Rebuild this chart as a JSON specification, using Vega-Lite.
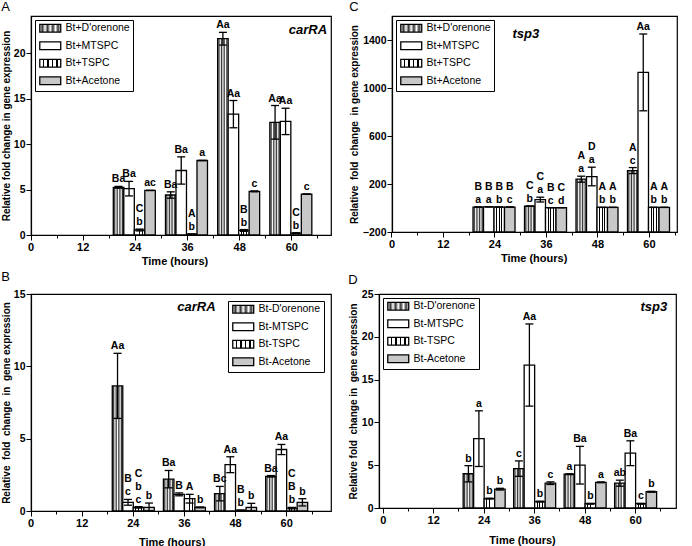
{
"$schema":"https://vega.github.io/schema/vega-lite/v6.json",
"background":"white",
"padding":{"left":0,"top":0,"right":0,"bottom":0},
"config":{
 "view":{"stroke":"black","strokeWidth":1.2},
 "font":"Liberation Sans",
 "axis":{"grid":false,"domainColor":"black","domainWidth":1.2,"tickColor":"black","tickWidth":1,"labelColor":"black","titleColor":"black","labelFont":"Liberation Sans","titleFont":"Liberation Sans","labelFontWeight":"bold","titleFontWeight":"bold","labelFontSize":11,"titleFontSize":11,"labelFlush":false,"labelOverlap":false,"labelBound":false,"labelPadding":1,"labelAngle":0},
 "axisY":{"titleFontSize":10,"labelFontSize":10.5},
 "axisX":{"domain":false,"bandPosition":0.5},
 "title":{"anchor":"start","frame":"bounds","fontSize":13,"fontWeight":"normal","font":"Liberation Sans","offset":2,"color":"black"},
 "legend":{"strokeColor":"black","fillColor":"white","padding":3,"labelFont":"Liberation Sans","labelFontSize":10.5,"labelColor":"black","symbolSize":58,"symbolStrokeColor":"black","symbolStrokeWidth":1.3,"symbolOffset":7,"labelOffset":10,"rowPadding":3.5,"offset":4,"symbolOpacity":1}
},
"datasets":{
 "A":[
  {"t":24,"trt":"D'orenone","v":5.25,"lo":5.15,"hi":5.35,"l1":"Ba"},
  {"t":24,"trt":"MTSPC","v":5.1,"lo":4.3,"hi":5.9,"l1":"Ba"},
  {"t":24,"trt":"TSPC","v":0.55,"lo":0.45,"hi":0.65,"l1":"b","l2":"C"},
  {"t":24,"trt":"Acetone","v":4.9,"lo":4.9,"hi":4.9,"l1":"ac"},
  {"t":36,"trt":"D'orenone","v":4.4,"lo":4.05,"hi":4.75,"l1":"Ba"},
  {"t":36,"trt":"MTSPC","v":7.1,"lo":5.6,"hi":8.6,"l1":"Ba"},
  {"t":36,"trt":"TSPC","v":0.1,"lo":0.1,"hi":0.1,"l1":"b","l2":"A"},
  {"t":36,"trt":"Acetone","v":8.2,"lo":8.2,"hi":8.2,"l1":"a"},
  {"t":48,"trt":"D'orenone","v":21.6,"lo":20.9,"hi":22.3,"l1":"Aa"},
  {"t":48,"trt":"MTSPC","v":13.3,"lo":11.8,"hi":14.8,"l1":"Aa"},
  {"t":48,"trt":"TSPC","v":0.5,"lo":0.4,"hi":0.6,"l1":"b","l2":"B"},
  {"t":48,"trt":"Acetone","v":4.8,"lo":4.75,"hi":4.85,"l1":"c"},
  {"t":60,"trt":"D'orenone","v":12.4,"lo":10.55,"hi":14.25,"l1":"Aa"},
  {"t":60,"trt":"MTSPC","v":12.5,"lo":11.05,"hi":13.95,"l1":"Aa"},
  {"t":60,"trt":"TSPC","v":0.2,"lo":0.15,"hi":0.25,"l1":"b","l2":"C"},
  {"t":60,"trt":"Acetone","v":4.5,"lo":4.5,"hi":4.5,"l1":"c"}
 ],
 "C":[
  {"t":24,"trt":"D'orenone","v":8,"lo":8,"hi":8,"l1":"a","l2":"B"},
  {"t":24,"trt":"MTSPC","v":10,"lo":10,"hi":10,"l1":"a","l2":"B"},
  {"t":24,"trt":"TSPC","v":8,"lo":8,"hi":8,"l1":"b","l2":"B"},
  {"t":24,"trt":"Acetone","v":8,"lo":8,"hi":8,"l1":"c","l2":"B"},
  {"t":36,"trt":"D'orenone","v":15,"lo":15,"hi":15,"l1":"b","l2":"C"},
  {"t":36,"trt":"MTSPC","v":70,"lo":50,"hi":90,"l1":"a","l2":"C"},
  {"t":36,"trt":"TSPC","v":3,"lo":3,"hi":3,"l1":"c","l2":"B"},
  {"t":36,"trt":"Acetone","v":3,"lo":3,"hi":3,"l1":"d","l2":"C"},
  {"t":48,"trt":"D'orenone","v":240,"lo":215,"hi":265,"l1":"a","l2":"A"},
  {"t":48,"trt":"MTSPC","v":262,"lo":185,"hi":340,"l1":"a","l2":"D"},
  {"t":48,"trt":"TSPC","v":5,"lo":5,"hi":5,"l1":"b","l2":"A"},
  {"t":48,"trt":"Acetone","v":5,"lo":5,"hi":5,"l1":"b","l2":"A"},
  {"t":60,"trt":"D'orenone","v":312,"lo":287,"hi":337,"l1":"c","l2":"A"},
  {"t":60,"trt":"MTSPC","v":1130,"lo":810,"hi":1450,"l1":"Aa"},
  {"t":60,"trt":"TSPC","v":5,"lo":5,"hi":5,"l1":"b","l2":"A"},
  {"t":60,"trt":"Acetone","v":5,"lo":5,"hi":5,"l1":"b","l2":"A"}
 ],
 "B":[
  {"t":24,"trt":"D'orenone","v":8.65,"lo":6.4,"hi":10.9,"l1":"Aa"},
  {"t":24,"trt":"MTSPC","v":0.6,"lo":0.4,"hi":0.8,"l1":"c","l2":"B"},
  {"t":24,"trt":"TSPC","v":0.25,"lo":0.2,"hi":0.3,"l1":"c","l2":"b","l3":"C"},
  {"t":24,"trt":"Acetone","v":0.25,"lo":0,"hi":0.55,"l1":"b"},
  {"t":36,"trt":"D'orenone","v":2.2,"lo":1.6,"hi":2.8,"l1":"Ba"},
  {"t":36,"trt":"MTSPC","v":1.15,"lo":1.05,"hi":1.25,"l1":"B"},
  {"t":36,"trt":"TSPC","v":0.85,"lo":0.55,"hi":1.15,"l1":"A"},
  {"t":36,"trt":"Acetone","v":0.25,"lo":0.22,"hi":0.28,"l1":"b"},
  {"t":48,"trt":"D'orenone","v":1.2,"lo":0.7,"hi":1.7,"l1":"Bc"},
  {"t":48,"trt":"MTSPC","v":3.2,"lo":2.65,"hi":3.75,"l1":"Aa"},
  {"t":48,"trt":"TSPC","v":0.05,"lo":0.05,"hi":0.05,"l1":"b","l2":"B"},
  {"t":48,"trt":"Acetone","v":0.25,"lo":0,"hi":0.53,"l1":"b"},
  {"t":60,"trt":"D'orenone","v":2.4,"lo":2.35,"hi":2.45,"l1":"Ba"},
  {"t":60,"trt":"MTSPC","v":4.25,"lo":3.9,"hi":4.6,"l1":"Aa"},
  {"t":60,"trt":"TSPC","v":0.2,"lo":0.15,"hi":0.25,"l1":"b","l2":"B","l3":"C"},
  {"t":60,"trt":"Acetone","v":0.6,"lo":0.35,"hi":0.85,"l1":"b"}
 ],
 "D":[
  {"t":24,"trt":"D'orenone","v":4.0,"lo":3.05,"hi":4.95,"l1":"b"},
  {"t":24,"trt":"MTSPC","v":8.1,"lo":4.85,"hi":11.35,"l1":"a"},
  {"t":24,"trt":"TSPC","v":1.1,"lo":1.05,"hi":1.15,"l1":"b"},
  {"t":24,"trt":"Acetone","v":2.2,"lo":2.1,"hi":2.3,"l1":"b"},
  {"t":36,"trt":"D'orenone","v":4.6,"lo":3.7,"hi":5.5,"l1":"c"},
  {"t":36,"trt":"MTSPC","v":16.7,"lo":11.9,"hi":21.5,"l1":"Aa"},
  {"t":36,"trt":"TSPC","v":0.75,"lo":0.7,"hi":0.8,"l1":"b"},
  {"t":36,"trt":"Acetone","v":2.9,"lo":2.75,"hi":3.05,"l1":"c"},
  {"t":48,"trt":"D'orenone","v":3.95,"lo":3.9,"hi":4.0,"l1":"a"},
  {"t":48,"trt":"MTSPC","v":5.0,"lo":2.8,"hi":7.2,"l1":"Ba"},
  {"t":48,"trt":"TSPC","v":0.5,"lo":0.45,"hi":0.55,"l1":"b"},
  {"t":48,"trt":"Acetone","v":3.0,"lo":2.95,"hi":3.05,"l1":"a"},
  {"t":60,"trt":"D'orenone","v":2.9,"lo":2.55,"hi":3.25,"l1":"ab"},
  {"t":60,"trt":"MTSPC","v":6.4,"lo":4.95,"hi":7.85,"l1":"Ba"},
  {"t":60,"trt":"TSPC","v":0.5,"lo":0.45,"hi":0.55,"l1":"c"},
  {"t":60,"trt":"Acetone","v":1.9,"lo":1.85,"hi":1.95,"l1":"b"}
 ]
},
"spacing":3,
"resolve":{"scale":{"x":"independent","y":"independent","fill":"independent","xOffset":"independent"},"legend":{"fill":"independent"},"axis":{"x":"independent","y":"independent"}},
"vconcat":[
{"spacing":61,"bounds":"flush",
 "resolve":{"scale":{"x":"independent","y":"independent","fill":"independent","xOffset":"independent"},"legend":{"fill":"independent"},"axis":{"x":"independent","y":"independent"}},
 "hconcat":[
 {"title":{"text":"A"},"width":300,"height":219,"data":{"name":"A"},
  "layer":[
   {"transform":[{"filter":{"field":"trt","equal":"D'orenone"}}],
    "mark":{"type":"bar","stroke":"black","strokeWidth":1.3,"fill":{"gradient":"linear","x1":0,"y1":0,"x2":1,"y2":0,"stops":[{"offset":0,"color":"#fff"},{"offset":0.125,"color":"#333"},{"offset":0.25,"color":"#fff"},{"offset":0.375,"color":"#333"},{"offset":0.5,"color":"#fff"},{"offset":0.625,"color":"#333"},{"offset":0.75,"color":"#fff"},{"offset":0.875,"color":"#333"},{"offset":1,"color":"#fff"}]}},
    "encoding":{
     "x":{"field":"t","type":"ordinal","scale":{"domain":[0,6,12,18,24,30,36,42,48,54,60,66],"range":[-13.04,300],"paddingInner":0,"paddingOuter":0},"axis":{"labelExpr":"datum.value % 12 === 0 ? datum.label : ''","labelOverlap":false,"tickSize":{"condition":{"test":"datum.value % 12 === 0","value":5},"value":3},"title":"Time (hours)","titlePadding":3}},
     "xOffset":{"field":"trt","type":"nominal","scale":{"domain":["D'orenone","MTSPC","TSPC","Acetone"],"range":[-9,33],"paddingInner":0,"paddingOuter":0}},
     "y":{"field":"v","type":"quantitative","scale":{"domain":[0,24.1],"nice":false},"axis":{"values":[0,2.5,5,7.5,10,12.5,15,17.5,20,22.5],"labelExpr":"datum.value % 5 === 0 ? datum.label : ''","labelOverlap":false,"tickSize":{"condition":{"test":"datum.value % 5 === 0","value":5},"value":3},"title":"Relative fold change in gene expression","titlePadding":2}}
    }},
   {"transform":[{"filter":{"field":"trt","equal":"MTSPC"}}],
    "mark":{"type":"bar","stroke":"black","strokeWidth":1.3,"fill":"#ffffff"},
    "encoding":{"x":{"field":"t","type":"ordinal"},"xOffset":{"field":"trt","type":"nominal"},"y":{"field":"v","type":"quantitative"}}},
   {"transform":[{"filter":{"field":"trt","equal":"TSPC"}}],
    "mark":{"type":"bar","stroke":"black","strokeWidth":1.3,"fill":{"gradient":"linear","x1":0,"y1":0,"x2":1,"y2":0,"stops":[{"offset":0,"color":"#fff"},{"offset":0.21,"color":"#fff"},{"offset":0.21,"color":"#000"},{"offset":0.29,"color":"#000"},{"offset":0.29,"color":"#fff"},{"offset":0.46,"color":"#fff"},{"offset":0.46,"color":"#000"},{"offset":0.54,"color":"#000"},{"offset":0.54,"color":"#fff"},{"offset":0.71,"color":"#fff"},{"offset":0.71,"color":"#000"},{"offset":0.79,"color":"#000"},{"offset":0.79,"color":"#fff"},{"offset":1,"color":"#fff"}]}},
    "encoding":{"x":{"field":"t","type":"ordinal"},"xOffset":{"field":"trt","type":"nominal"},"y":{"field":"v","type":"quantitative"}}},
   {"transform":[{"filter":{"field":"trt","equal":"Acetone"}}],
    "mark":{"type":"bar","stroke":"black","strokeWidth":1.3,"fill":"#c8c8c8"},
    "encoding":{"x":{"field":"t","type":"ordinal"},"xOffset":{"field":"trt","type":"nominal"},"y":{"field":"v","type":"quantitative"}}},
   {"mark":{"type":"rule","stroke":"black","strokeWidth":1.3},
    "encoding":{"x":{"field":"t","type":"ordinal"},"xOffset":{"field":"trt","type":"nominal"},"y":{"field":"lo","type":"quantitative"},"y2":{"field":"hi"}}},
   {"mark":{"type":"tick","orient":"horizontal","color":"black","size":8,"thickness":1.3,"opacity":1},
    "encoding":{"x":{"field":"t","type":"ordinal"},"xOffset":{"field":"trt","type":"nominal"},"y":{"field":"hi","type":"quantitative"}}},
   {"mark":{"type":"tick","orient":"horizontal","color":"black","size":8,"thickness":1.3,"opacity":1},
    "encoding":{"x":{"field":"t","type":"ordinal"},"xOffset":{"field":"trt","type":"nominal"},"y":{"field":"lo","type":"quantitative"}}},
   {"transform":[{"filter":"isValid(datum.l1)"}],"mark":{"type":"text","baseline":"bottom","dy":-2,"fontSize":10.5,"fontWeight":"bold","font":"Liberation Sans","color":"black"},
    "encoding":{"x":{"field":"t","type":"ordinal"},"xOffset":{"field":"trt","type":"nominal"},"y":{"field":"hi","type":"quantitative"},"text":{"field":"l1"}}},
   {"transform":[{"filter":"isValid(datum.l2)"}],"mark":{"type":"text","baseline":"bottom","dy":-15,"fontSize":10.5,"fontWeight":"bold","font":"Liberation Sans","color":"black"},
    "encoding":{"x":{"field":"t","type":"ordinal"},"xOffset":{"field":"trt","type":"nominal"},"y":{"field":"hi","type":"quantitative"},"text":{"field":"l2"}}},
   {"data":{"values":[{}]},"mark":{"type":"text","text":"carRA","dx":-10,"fontSize":13,"fontWeight":"bold","fontStyle":"italic","font":"Liberation Sans","color":"black"},
    "encoding":{"x":{"datum":66,"type":"ordinal"},"y":{"datum":22.6,"type":"quantitative"}}},
   {"transform":[{"filter":"false"}],"mark":{"type":"square"},
    "encoding":{"fill":{"field":"trt","type":"nominal","scale":{"domain":["D'orenone","MTSPC","TSPC","Acetone"],"range":[
      {"expr":"{gradient:'linear',x1:0,y1:0,x2:1,y2:0,stops:[{offset:0,color:'#fff'},{offset:0.125,color:'#333'},{offset:0.25,color:'#fff'},{offset:0.375,color:'#333'},{offset:0.5,color:'#fff'},{offset:0.625,color:'#333'},{offset:0.75,color:'#fff'},{offset:0.875,color:'#333'},{offset:1,color:'#fff'}]}"},
      "#ffffff",
      {"expr":"{gradient:'linear',x1:0,y1:0,x2:1,y2:0,stops:[{offset:0,color:'#fff'},{offset:0.15,color:'#fff'},{offset:0.15,color:'#000'},{offset:0.21,color:'#000'},{offset:0.21,color:'#fff'},{offset:0.36,color:'#fff'},{offset:0.36,color:'#000'},{offset:0.42,color:'#000'},{offset:0.42,color:'#fff'},{offset:0.58,color:'#fff'},{offset:0.58,color:'#000'},{offset:0.64,color:'#000'},{offset:0.64,color:'#fff'},{offset:0.79,color:'#fff'},{offset:0.79,color:'#000'},{offset:0.85,color:'#000'},{offset:0.85,color:'#fff'},{offset:1,color:'#fff'}]}"},
      "#c8c8c8"]},
     "legend":{"title":null,"orient":"top-left","offset":4,"symbolType":"M-2.75,-1H2.75V1H-2.75Z","labelExpr":"'Bt+' + datum.label"}}}}
  ]},
 {"title":{"text":"C"},"width":285,"height":216,"data":{"name":"C"},
  "layer":[
   {"transform":[{"filter":{"field":"trt","equal":"D'orenone"}}],
    "mark":{"type":"bar","stroke":"black","strokeWidth":1.3,"fill":{"gradient":"linear","x1":0,"y1":0,"x2":1,"y2":0,"stops":[{"offset":0,"color":"#fff"},{"offset":0.125,"color":"#333"},{"offset":0.25,"color":"#fff"},{"offset":0.375,"color":"#333"},{"offset":0.5,"color":"#fff"},{"offset":0.625,"color":"#333"},{"offset":0.75,"color":"#fff"},{"offset":0.875,"color":"#333"},{"offset":1,"color":"#fff"}]}},
    "encoding":{
     "x":{"field":"t","type":"ordinal","scale":{"domain":[0,6,12,18,24,30,36,42,48,54,60,66],"range":[-12.88,296.1],"paddingInner":0,"paddingOuter":0},"axis":{"labelExpr":"datum.value % 12 === 0 ? datum.label : ''","labelOverlap":false,"tickSize":{"condition":{"test":"datum.value % 12 === 0","value":5},"value":3},"title":"Time (hours)","titlePadding":3}},
     "xOffset":{"field":"trt","type":"nominal","scale":{"domain":["D'orenone","MTSPC","TSPC","Acetone"],"range":[-9.1,32.9],"paddingInner":0,"paddingOuter":0}},
     "y":{"field":"v","type":"quantitative","scale":{"domain":[-200,1600],"nice":false,"zero":false},"axis":{"values":[-200,-100,0,100,200,300,400,500,600,700,800,900,1000,1100,1200,1300,1400,1500,1600],"labelExpr":"datum.value % 200 === 0 ? datum.label : ''","labelOverlap":false,"tickSize":{"condition":{"test":"datum.value % 200 === 0","value":5},"value":3},"format":"d","title":"Relative\u00a0 fold\u00a0 change\u00a0 in gene expression","titlePadding":3}},
     "y2":{"datum":-200}
    }},
   {"transform":[{"filter":{"field":"trt","equal":"MTSPC"}}],
    "mark":{"type":"bar","stroke":"black","strokeWidth":1.3,"fill":"#ffffff"},
    "encoding":{"x":{"field":"t","type":"ordinal"},"xOffset":{"field":"trt","type":"nominal"},"y":{"field":"v","type":"quantitative"},"y2":{"datum":-200}}},
   {"transform":[{"filter":{"field":"trt","equal":"TSPC"}}],
    "mark":{"type":"bar","stroke":"black","strokeWidth":1.3,"fill":{"gradient":"linear","x1":0,"y1":0,"x2":1,"y2":0,"stops":[{"offset":0,"color":"#fff"},{"offset":0.21,"color":"#fff"},{"offset":0.21,"color":"#000"},{"offset":0.29,"color":"#000"},{"offset":0.29,"color":"#fff"},{"offset":0.46,"color":"#fff"},{"offset":0.46,"color":"#000"},{"offset":0.54,"color":"#000"},{"offset":0.54,"color":"#fff"},{"offset":0.71,"color":"#fff"},{"offset":0.71,"color":"#000"},{"offset":0.79,"color":"#000"},{"offset":0.79,"color":"#fff"},{"offset":1,"color":"#fff"}]}},
    "encoding":{"x":{"field":"t","type":"ordinal"},"xOffset":{"field":"trt","type":"nominal"},"y":{"field":"v","type":"quantitative"},"y2":{"datum":-200}}},
   {"transform":[{"filter":{"field":"trt","equal":"Acetone"}}],
    "mark":{"type":"bar","stroke":"black","strokeWidth":1.3,"fill":"#c8c8c8"},
    "encoding":{"x":{"field":"t","type":"ordinal"},"xOffset":{"field":"trt","type":"nominal"},"y":{"field":"v","type":"quantitative"},"y2":{"datum":-200}}},
   {"mark":{"type":"rule","stroke":"black","strokeWidth":1.3},
    "encoding":{"x":{"field":"t","type":"ordinal"},"xOffset":{"field":"trt","type":"nominal"},"y":{"field":"lo","type":"quantitative"},"y2":{"field":"hi"}}},
   {"mark":{"type":"tick","orient":"horizontal","color":"black","size":8,"thickness":1.3,"opacity":1},
    "encoding":{"x":{"field":"t","type":"ordinal"},"xOffset":{"field":"trt","type":"nominal"},"y":{"field":"hi","type":"quantitative"}}},
   {"mark":{"type":"tick","orient":"horizontal","color":"black","size":8,"thickness":1.3,"opacity":1},
    "encoding":{"x":{"field":"t","type":"ordinal"},"xOffset":{"field":"trt","type":"nominal"},"y":{"field":"lo","type":"quantitative"}}},
   {"transform":[{"filter":"isValid(datum.l1)"}],"mark":{"type":"text","baseline":"bottom","dy":-2,"fontSize":10.5,"fontWeight":"bold","font":"Liberation Sans","color":"black"},
    "encoding":{"x":{"field":"t","type":"ordinal"},"xOffset":{"field":"trt","type":"nominal"},"y":{"field":"hi","type":"quantitative"},"text":{"field":"l1"}}},
   {"transform":[{"filter":"isValid(datum.l2)"}],"mark":{"type":"text","baseline":"bottom","dy":-15,"fontSize":10.5,"fontWeight":"bold","font":"Liberation Sans","color":"black"},
    "encoding":{"x":{"field":"t","type":"ordinal"},"xOffset":{"field":"trt","type":"nominal"},"y":{"field":"hi","type":"quantitative"},"text":{"field":"l2"}}},
   {"data":{"values":[{}]},"mark":{"type":"text","text":"tsp3","dx":5,"fontSize":13,"fontWeight":"bold","fontStyle":"italic","font":"Liberation Sans","color":"black"},
    "encoding":{"x":{"datum":30,"type":"ordinal"},"y":{"datum":1452,"type":"quantitative"}}},
   {"transform":[{"filter":"false"}],"mark":{"type":"square"},
    "encoding":{"fill":{"field":"trt","type":"nominal","scale":{"domain":["D'orenone","MTSPC","TSPC","Acetone"],"range":[
      {"expr":"{gradient:'linear',x1:0,y1:0,x2:1,y2:0,stops:[{offset:0,color:'#fff'},{offset:0.125,color:'#333'},{offset:0.25,color:'#fff'},{offset:0.375,color:'#333'},{offset:0.5,color:'#fff'},{offset:0.625,color:'#333'},{offset:0.75,color:'#fff'},{offset:0.875,color:'#333'},{offset:1,color:'#fff'}]}"},
      "#ffffff",
      {"expr":"{gradient:'linear',x1:0,y1:0,x2:1,y2:0,stops:[{offset:0,color:'#fff'},{offset:0.15,color:'#fff'},{offset:0.15,color:'#000'},{offset:0.21,color:'#000'},{offset:0.21,color:'#fff'},{offset:0.36,color:'#fff'},{offset:0.36,color:'#000'},{offset:0.42,color:'#000'},{offset:0.42,color:'#fff'},{offset:0.58,color:'#fff'},{offset:0.58,color:'#000'},{offset:0.64,color:'#000'},{offset:0.64,color:'#fff'},{offset:0.79,color:'#fff'},{offset:0.79,color:'#000'},{offset:0.85,color:'#000'},{offset:0.85,color:'#fff'},{offset:1,color:'#fff'}]}"},
      "#c8c8c8"]},
     "legend":{"title":null,"orient":"top-left","offset":4,"symbolType":"M-2.75,-1H2.75V1H-2.75Z","labelExpr":"'Bt+' + datum.label"}}}}
  ]}
 ]},
{"spacing":48,"bounds":"flush",
 "resolve":{"scale":{"x":"independent","y":"independent","fill":"independent","xOffset":"independent"},"legend":{"fill":"independent"},"axis":{"x":"independent","y":"independent"}},
 "hconcat":[
 {"title":{"text":"B","offset":5},"width":300,"height":217,"data":{"name":"B"},
  "layer":[
   {"transform":[{"filter":{"field":"trt","equal":"D'orenone"}}],
    "mark":{"type":"bar","stroke":"black","strokeWidth":1.3,"fill":{"gradient":"linear","x1":0,"y1":0,"x2":1,"y2":0,"stops":[{"offset":0,"color":"#fff"},{"offset":0.125,"color":"#333"},{"offset":0.25,"color":"#fff"},{"offset":0.375,"color":"#333"},{"offset":0.5,"color":"#fff"},{"offset":0.625,"color":"#333"},{"offset":0.75,"color":"#fff"},{"offset":0.875,"color":"#333"},{"offset":1,"color":"#fff"}]}},
    "encoding":{
     "x":{"field":"t","type":"ordinal","scale":{"domain":[0,6,12,18,24,30,36,42,48,54,60,66],"range":[-12.78,294.0],"paddingInner":0,"paddingOuter":0},"axis":{"labelExpr":"datum.value % 12 === 0 ? datum.label : ''","labelOverlap":false,"tickSize":{"condition":{"test":"datum.value % 12 === 0","value":5},"value":3},"title":"Time (hours)","titlePadding":8}},
     "xOffset":{"field":"trt","type":"nominal","scale":{"domain":["D'orenone","MTSPC","TSPC","Acetone"],"range":[-8.2,33.8],"paddingInner":0,"paddingOuter":0}},
     "y":{"field":"v","type":"quantitative","scale":{"domain":[0,15],"nice":false},"axis":{"values":[0,2.5,5,7.5,10,12.5,15],"labelExpr":"datum.value % 5 === 0 ? datum.label : ''","labelOverlap":false,"tickSize":{"condition":{"test":"datum.value % 5 === 0","value":5},"value":3},"title":"Relative\u00a0 fold\u00a0 change\u00a0 in\u00a0 gene expression","titlePadding":2}}
    }},
   {"transform":[{"filter":{"field":"trt","equal":"MTSPC"}}],
    "mark":{"type":"bar","stroke":"black","strokeWidth":1.3,"fill":"#ffffff"},
    "encoding":{"x":{"field":"t","type":"ordinal"},"xOffset":{"field":"trt","type":"nominal"},"y":{"field":"v","type":"quantitative"}}},
   {"transform":[{"filter":{"field":"trt","equal":"TSPC"}}],
    "mark":{"type":"bar","stroke":"black","strokeWidth":1.3,"fill":{"gradient":"linear","x1":0,"y1":0,"x2":1,"y2":0,"stops":[{"offset":0,"color":"#fff"},{"offset":0.21,"color":"#fff"},{"offset":0.21,"color":"#000"},{"offset":0.29,"color":"#000"},{"offset":0.29,"color":"#fff"},{"offset":0.46,"color":"#fff"},{"offset":0.46,"color":"#000"},{"offset":0.54,"color":"#000"},{"offset":0.54,"color":"#fff"},{"offset":0.71,"color":"#fff"},{"offset":0.71,"color":"#000"},{"offset":0.79,"color":"#000"},{"offset":0.79,"color":"#fff"},{"offset":1,"color":"#fff"}]}},
    "encoding":{"x":{"field":"t","type":"ordinal"},"xOffset":{"field":"trt","type":"nominal"},"y":{"field":"v","type":"quantitative"}}},
   {"transform":[{"filter":{"field":"trt","equal":"Acetone"}}],
    "mark":{"type":"bar","stroke":"black","strokeWidth":1.3,"fill":"#c8c8c8"},
    "encoding":{"x":{"field":"t","type":"ordinal"},"xOffset":{"field":"trt","type":"nominal"},"y":{"field":"v","type":"quantitative"}}},
   {"mark":{"type":"rule","stroke":"black","strokeWidth":1.3},
    "encoding":{"x":{"field":"t","type":"ordinal"},"xOffset":{"field":"trt","type":"nominal"},"y":{"field":"lo","type":"quantitative"},"y2":{"field":"hi"}}},
   {"mark":{"type":"tick","orient":"horizontal","color":"black","size":8,"thickness":1.3,"opacity":1},
    "encoding":{"x":{"field":"t","type":"ordinal"},"xOffset":{"field":"trt","type":"nominal"},"y":{"field":"hi","type":"quantitative"}}},
   {"mark":{"type":"tick","orient":"horizontal","color":"black","size":8,"thickness":1.3,"opacity":1},
    "encoding":{"x":{"field":"t","type":"ordinal"},"xOffset":{"field":"trt","type":"nominal"},"y":{"field":"lo","type":"quantitative"}}},
   {"transform":[{"filter":"isValid(datum.l1)"}],"mark":{"type":"text","baseline":"bottom","dy":-2,"fontSize":10.5,"fontWeight":"bold","font":"Liberation Sans","color":"black"},
    "encoding":{"x":{"field":"t","type":"ordinal"},"xOffset":{"field":"trt","type":"nominal"},"y":{"field":"hi","type":"quantitative"},"text":{"field":"l1"}}},
   {"transform":[{"filter":"isValid(datum.l2)"}],"mark":{"type":"text","baseline":"bottom","dy":-15,"fontSize":10.5,"fontWeight":"bold","font":"Liberation Sans","color":"black"},
    "encoding":{"x":{"field":"t","type":"ordinal"},"xOffset":{"field":"trt","type":"nominal"},"y":{"field":"hi","type":"quantitative"},"text":{"field":"l2"}}},
   {"transform":[{"filter":"isValid(datum.l3)"}],"mark":{"type":"text","baseline":"bottom","dy":-28,"fontSize":10.5,"fontWeight":"bold","font":"Liberation Sans","color":"black"},
    "encoding":{"x":{"field":"t","type":"ordinal"},"xOffset":{"field":"trt","type":"nominal"},"y":{"field":"hi","type":"quantitative"},"text":{"field":"l3"}}},
   {"data":{"values":[{}]},"mark":{"type":"text","text":"carRA","dx":12,"fontSize":13,"fontWeight":"bold","fontStyle":"italic","font":"Liberation Sans","color":"black"},
    "encoding":{"x":{"datum":36,"type":"ordinal"},"y":{"datum":14.1,"type":"quantitative"}}},
   {"transform":[{"filter":"false"}],"mark":{"type":"square"},
    "encoding":{"fill":{"field":"trt","type":"nominal","scale":{"domain":["D'orenone","MTSPC","TSPC","Acetone"],"range":[
      {"expr":"{gradient:'linear',x1:0,y1:0,x2:1,y2:0,stops:[{offset:0,color:'#fff'},{offset:0.125,color:'#333'},{offset:0.25,color:'#fff'},{offset:0.375,color:'#333'},{offset:0.5,color:'#fff'},{offset:0.625,color:'#333'},{offset:0.75,color:'#fff'},{offset:0.875,color:'#333'},{offset:1,color:'#fff'}]}"},
      "#ffffff",
      {"expr":"{gradient:'linear',x1:0,y1:0,x2:1,y2:0,stops:[{offset:0,color:'#fff'},{offset:0.15,color:'#fff'},{offset:0.15,color:'#000'},{offset:0.21,color:'#000'},{offset:0.21,color:'#fff'},{offset:0.36,color:'#fff'},{offset:0.36,color:'#000'},{offset:0.42,color:'#000'},{offset:0.42,color:'#fff'},{offset:0.58,color:'#fff'},{offset:0.58,color:'#000'},{offset:0.64,color:'#000'},{offset:0.64,color:'#fff'},{offset:0.79,color:'#fff'},{offset:0.79,color:'#000'},{offset:0.85,color:'#000'},{offset:0.85,color:'#fff'},{offset:1,color:'#fff'}]}"},
      "#c8c8c8"]},
     "legend":{"title":null,"orient":"top-right","offset":7,"symbolType":"M-2.75,-1H2.75V1H-2.75Z","labelExpr":"'Bt-' + datum.label"}}}}
  ]},
 {"title":{"text":"D","offset":2},"width":297,"height":214,"data":{"name":"D"},
  "layer":[
   {"transform":[{"filter":{"field":"trt","equal":"D'orenone"}}],
    "mark":{"type":"bar","stroke":"black","strokeWidth":1.3,"fill":{"gradient":"linear","x1":0,"y1":0,"x2":1,"y2":0,"stops":[{"offset":0,"color":"#fff"},{"offset":0.125,"color":"#333"},{"offset":0.25,"color":"#fff"},{"offset":0.375,"color":"#333"},{"offset":0.5,"color":"#fff"},{"offset":0.625,"color":"#333"},{"offset":0.75,"color":"#fff"},{"offset":0.875,"color":"#333"},{"offset":1,"color":"#fff"}]}},
    "encoding":{
     "x":{"field":"t","type":"ordinal","scale":{"domain":[0,6,12,18,24,30,36,42,48,54,60,66],"range":[-8.41,294.5],"paddingInner":0,"paddingOuter":0},"axis":{"labelExpr":"datum.value % 12 === 0 ? datum.label : ''","labelOverlap":false,"tickSize":{"condition":{"test":"datum.value % 12 === 0","value":5},"value":3},"title":"Time (hours)","titlePadding":9}},
     "xOffset":{"field":"trt","type":"nominal","scale":{"domain":["D'orenone","MTSPC","TSPC","Acetone"],"range":[-8.4,33.6],"paddingInner":0,"paddingOuter":0}},
     "y":{"field":"v","type":"quantitative","scale":{"domain":[0,25],"nice":false},"axis":{"values":[0,2.5,5,7.5,10,12.5,15,17.5,20,22.5,25],"labelExpr":"datum.value % 5 === 0 ? datum.label : ''","labelOverlap":false,"tickSize":{"condition":{"test":"datum.value % 5 === 0","value":5},"value":3},"title":"Relative fold\u00a0 change in\u00a0 gene expression","titlePadding":3}}
    }},
   {"transform":[{"filter":{"field":"trt","equal":"MTSPC"}}],
    "mark":{"type":"bar","stroke":"black","strokeWidth":1.3,"fill":"#ffffff"},
    "encoding":{"x":{"field":"t","type":"ordinal"},"xOffset":{"field":"trt","type":"nominal"},"y":{"field":"v","type":"quantitative"}}},
   {"transform":[{"filter":{"field":"trt","equal":"TSPC"}}],
    "mark":{"type":"bar","stroke":"black","strokeWidth":1.3,"fill":{"gradient":"linear","x1":0,"y1":0,"x2":1,"y2":0,"stops":[{"offset":0,"color":"#fff"},{"offset":0.21,"color":"#fff"},{"offset":0.21,"color":"#000"},{"offset":0.29,"color":"#000"},{"offset":0.29,"color":"#fff"},{"offset":0.46,"color":"#fff"},{"offset":0.46,"color":"#000"},{"offset":0.54,"color":"#000"},{"offset":0.54,"color":"#fff"},{"offset":0.71,"color":"#fff"},{"offset":0.71,"color":"#000"},{"offset":0.79,"color":"#000"},{"offset":0.79,"color":"#fff"},{"offset":1,"color":"#fff"}]}},
    "encoding":{"x":{"field":"t","type":"ordinal"},"xOffset":{"field":"trt","type":"nominal"},"y":{"field":"v","type":"quantitative"}}},
   {"transform":[{"filter":{"field":"trt","equal":"Acetone"}}],
    "mark":{"type":"bar","stroke":"black","strokeWidth":1.3,"fill":"#c8c8c8"},
    "encoding":{"x":{"field":"t","type":"ordinal"},"xOffset":{"field":"trt","type":"nominal"},"y":{"field":"v","type":"quantitative"}}},
   {"mark":{"type":"rule","stroke":"black","strokeWidth":1.3},
    "encoding":{"x":{"field":"t","type":"ordinal"},"xOffset":{"field":"trt","type":"nominal"},"y":{"field":"lo","type":"quantitative"},"y2":{"field":"hi"}}},
   {"mark":{"type":"tick","orient":"horizontal","color":"black","size":8,"thickness":1.3,"opacity":1},
    "encoding":{"x":{"field":"t","type":"ordinal"},"xOffset":{"field":"trt","type":"nominal"},"y":{"field":"hi","type":"quantitative"}}},
   {"mark":{"type":"tick","orient":"horizontal","color":"black","size":8,"thickness":1.3,"opacity":1},
    "encoding":{"x":{"field":"t","type":"ordinal"},"xOffset":{"field":"trt","type":"nominal"},"y":{"field":"lo","type":"quantitative"}}},
   {"transform":[{"filter":"isValid(datum.l1)"}],"mark":{"type":"text","baseline":"bottom","dy":-2,"fontSize":10.5,"fontWeight":"bold","font":"Liberation Sans","color":"black"},
    "encoding":{"x":{"field":"t","type":"ordinal"},"xOffset":{"field":"trt","type":"nominal"},"y":{"field":"hi","type":"quantitative"},"text":{"field":"l1"}}},
   {"data":{"values":[{}]},"mark":{"type":"text","text":"tsp3","dx":-7,"fontSize":13,"fontWeight":"bold","fontStyle":"italic","font":"Liberation Sans","color":"black"},
    "encoding":{"x":{"datum":66,"type":"ordinal"},"y":{"datum":23.5,"type":"quantitative"}}},
   {"transform":[{"filter":"false"}],"mark":{"type":"square"},
    "encoding":{"fill":{"field":"trt","type":"nominal","scale":{"domain":["D'orenone","MTSPC","TSPC","Acetone"],"range":[
      {"expr":"{gradient:'linear',x1:0,y1:0,x2:1,y2:0,stops:[{offset:0,color:'#fff'},{offset:0.125,color:'#333'},{offset:0.25,color:'#fff'},{offset:0.375,color:'#333'},{offset:0.5,color:'#fff'},{offset:0.625,color:'#333'},{offset:0.75,color:'#fff'},{offset:0.875,color:'#333'},{offset:1,color:'#fff'}]}"},
      "#ffffff",
      {"expr":"{gradient:'linear',x1:0,y1:0,x2:1,y2:0,stops:[{offset:0,color:'#fff'},{offset:0.15,color:'#fff'},{offset:0.15,color:'#000'},{offset:0.21,color:'#000'},{offset:0.21,color:'#fff'},{offset:0.36,color:'#fff'},{offset:0.36,color:'#000'},{offset:0.42,color:'#000'},{offset:0.42,color:'#fff'},{offset:0.58,color:'#fff'},{offset:0.58,color:'#000'},{offset:0.64,color:'#000'},{offset:0.64,color:'#fff'},{offset:0.79,color:'#fff'},{offset:0.79,color:'#000'},{offset:0.85,color:'#000'},{offset:0.85,color:'#fff'},{offset:1,color:'#fff'}]}"},
      "#c8c8c8"]},
     "legend":{"title":null,"orient":"top-left","offset":4,"symbolType":"M-2.75,-1H2.75V1H-2.75Z","labelExpr":"'Bt-' + datum.label"}}}}
  ]}
 ]}
]
}
